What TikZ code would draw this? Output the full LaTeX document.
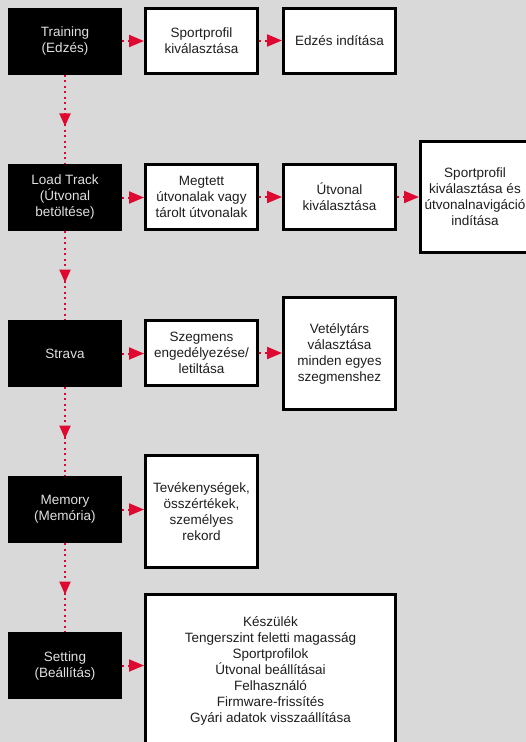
\documentclass[tikz,border=0pt]{standalone}
\usepackage{fontspec}
\setmainfont{Liberation Sans}
\usetikzlibrary{arrows.meta,decorations.markings}
\definecolor{bg}{RGB}{217,217,217}
\definecolor{arrred}{RGB}{222,8,48}
\definecolor{txtlight}{RGB}{224,224,224}
\definecolor{txtdark}{RGB}{30,30,30}
\begin{document}
\begin{tikzpicture}[x=1pt,y=-1pt,
  every node/.style={font=\fontsize{13.5}{16}\selectfont, align=center, inner sep=0pt},
  mainbox/.style={fill=black, text=txtlight, minimum width=114pt, minimum height=67pt},
  subbox/.style={fill=white, draw=black, line width=3pt, text=txtdark, minimum width=112pt, minimum height=65pt},
  hconn/.style={draw=arrred, line width=2pt, dash pattern=on 2pt off 3.5pt, -{Triangle[length=15pt,width=12pt]}},
  vconn/.style={draw=arrred, line width=2pt, dash pattern=on 2pt off 3.5pt, postaction={decorate},
    decoration={markings, mark=at position 0.58 with {\arrow{Triangle[length=13pt,width=11pt]}}}}
]
\fill[bg] (0,0) rectangle (526,742);
\useasboundingbox (0,0) rectangle (526,742);

% row 1
\node[mainbox] (train) at (65,41) {Training\\(Edzés)};
\node[subbox] (sport) at (201.5,40.5) {Sportprofil\\kiválasztása};
\node[subbox] (edzes) at (339.5,40.5) {Edzés indítása};

% row 2
\node[mainbox] (load) at (65,197.5) {Load Track\\(Útvonal\\betöltése)};
\node[subbox] (megtett) at (201.5,197) {Megtett\\útvonalak vagy\\tárolt útvonalak};
\node[subbox] (utvonal) at (339.5,197) {Útvonal\\kiválasztása};
\node[subbox, minimum width=109pt, minimum height=111pt] (navi) at (475,197)
  {Sportprofil\\kiválasztása és\\útvonalnavigáció\\indítása};

% row 3
\node[mainbox] (strava) at (65,353.5) {Strava};
\node[subbox] (szegm) at (201.5,353) {Szegmens\\engedélyezése/\\letiltása};
\node[subbox, minimum height=112pt] (vetely) at (339.5,353.5)
  {Vetélytárs\\választása\\minden egyes\\szegmenshez};

% row 4
\node[mainbox] (memory) at (65,509.5) {Memory\\(Memória)};
\node[subbox, minimum height=112pt] (tevek) at (201.5,511.5)
  {Tevékenységek,\\összértékek,\\személyes\\rekord};

% row 5
\node[mainbox] (setting) at (65,665.5) {Setting\\(Beállítás)};
\node[subbox, minimum width=250pt, minimum height=152pt] (setbox) at (270.5,670.5)
  {Készülék\\Tengerszint feletti magasság\\Sportprofilok\\Útvonal beállításai\\Felhasználó\\Firmware-frissítés\\Gyári adatok visszaállítása};

% horizontal connectors
\draw[hconn] (train.east) -- (train.east -| sport.west);
\draw[hconn] (sport.east) -- (sport.east -| edzes.west);
\draw[hconn] (load.east) -- (load.east -| megtett.west);
\draw[hconn] (megtett.east) -- (megtett.east -| utvonal.west);
\draw[hconn] (utvonal.east) -- (utvonal.east -| navi.west);
\draw[hconn] (strava.east) -- (strava.east -| szegm.west);
\draw[hconn] (szegm.east) -- (szegm.east -| vetely.west);
\draw[hconn] (memory.east) -- (memory.east -| tevek.west);
\draw[hconn] (setting.east) -- (setting.east -| setbox.west);

% vertical connectors
\draw[vconn] (train.south) -- (load.north);
\draw[vconn] (load.south) -- (strava.north);
\draw[vconn] (strava.south) -- (memory.north);
\draw[vconn] (memory.south) -- (setting.north);
\end{tikzpicture}
\end{document}
